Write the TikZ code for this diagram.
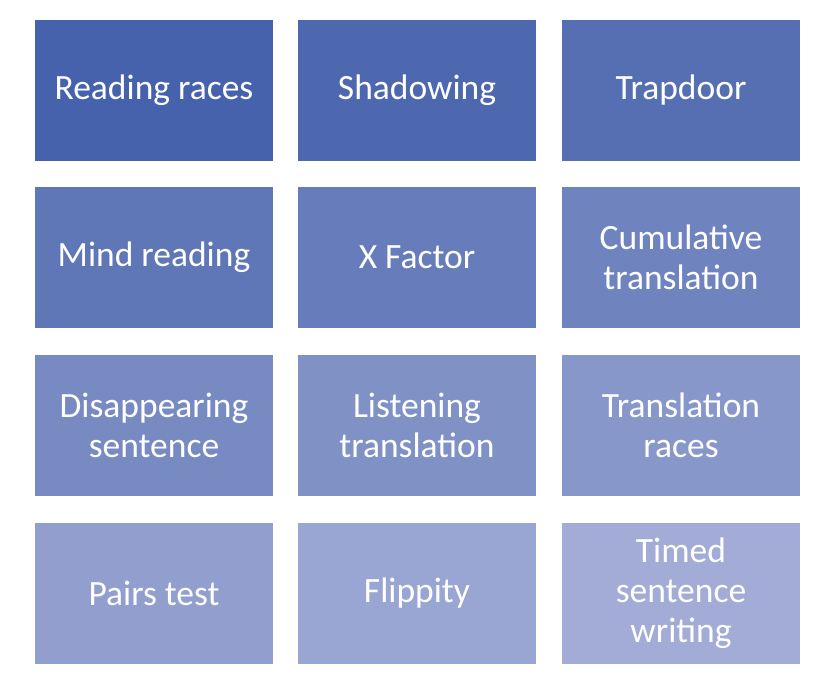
\documentclass[tikz,border=0pt]{standalone}
\usepackage{fontspec}
\setmainfont{Carlito}
\begin{document}
\begin{tikzpicture}[x=1pt,y=-1pt,
  tile/.style={fill=tilecol, draw=none, minimum width=237.5pt, minimum height=141pt,
    inner sep=0pt, text=white, align=center, font=\fontsize{35.5}{40}\selectfont}]
\useasboundingbox (0,0) rectangle (828,690);
\def\xs{{154,417,681}}
\def\ys{{90.5,257.5,425.5,593.5}}
\foreach \lbl [count=\i from 0] in {Reading races,Shadowing,Trapdoor,Mind reading,X Factor,Cumulative\\translation,Disappearing\\sentence,Listening\\translation,Translation\\races,Pairs test,Flippity,Timed\\sentence\\writing}{
  \pgfmathtruncatemacro{\c}{mod(\i,3)}
  \pgfmathtruncatemacro{\r}{div(\i,3)}
  \pgfmathsetmacro{\px}{\xs[\c]}
  \pgfmathsetmacro{\py}{\ys[\r]}
  \pgfmathtruncatemacro{\rr}{70+\i*92/11}
  \pgfmathtruncatemacro{\gg}{98+\i*74/11}
  \pgfmathtruncatemacro{\bb}{172+\i*42/11}
  \definecolor{tilecol}{RGB}{\rr,\gg,\bb}
  \node[tile] (t\i) at (\px,\py) {\lbl};
}
\end{tikzpicture}
\end{document}
